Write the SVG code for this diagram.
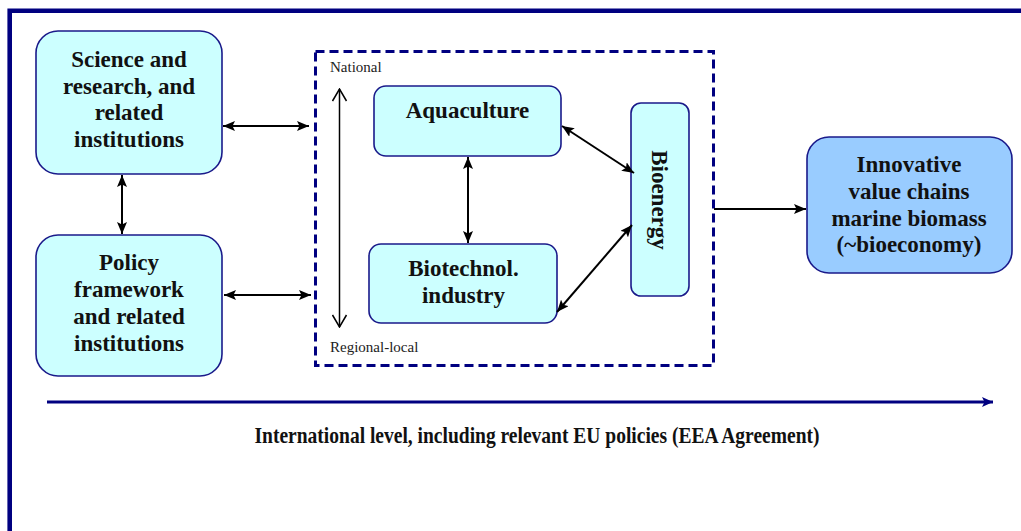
<svg xmlns="http://www.w3.org/2000/svg" width="1021" height="531" viewBox="0 0 1021 531" font-family="Liberation Serif, DejaVu Serif, serif">
<style>
.box{fill:#CCFFFF;stroke:#1a1a8a;stroke-width:1.6}
.box2{fill:#99CCFF;stroke:#1a1a8a;stroke-width:1.6}
.t{font-weight:bold;font-size:23px;fill:#111;text-anchor:middle}
.s{font-size:15px;fill:#222}
.c{stroke:#000;stroke-width:2;fill:none}
</style>
<defs>
<marker id="ah" markerUnits="userSpaceOnUse" viewBox="0 0 12 10" markerWidth="12" markerHeight="10" refX="12" refY="5" orient="auto-start-reverse">
<path d="M0,0 L12,5 L0,10 L2.5,5 z" fill="#000"/>
</marker>
<marker id="open" markerUnits="userSpaceOnUse" viewBox="0 0 14 16" markerWidth="14" markerHeight="16" refX="13" refY="8" orient="auto-start-reverse">
<path d="M1,1 L13,8 L1,15" fill="none" stroke="#000" stroke-width="1.5"/>
</marker>
<marker id="nav" markerUnits="userSpaceOnUse" viewBox="0 0 11 10" markerWidth="11" markerHeight="10" refX="11" refY="5" orient="auto">
<path d="M0,0 L11,5 L0,10 L2.5,5 z" fill="#000080"/>
</marker>
</defs>
<rect width="1021" height="531" fill="#fff"/>
<path d="M9.7,531 V10.8 H1021" fill="none" stroke="#000080" stroke-width="4.6"/>
<g id="science">
<rect class="box" x="36" y="31" width="186" height="143" rx="22"/>
<text class="t" x="129" y="67">Science and</text>
<text class="t" x="129" y="93.5">research, and</text>
<text class="t" x="129" y="120">related</text>
<text class="t" x="129" y="147">institutions</text>
</g>
<g id="policy">
<rect class="box" x="36" y="235" width="186" height="141" rx="22"/>
<text class="t" x="129" y="270">Policy</text>
<text class="t" x="129" y="297">framework</text>
<text class="t" x="129" y="324">and related</text>
<text class="t" x="129" y="351">institutions</text>
</g>
<g id="levels">
<rect x="315.5" y="51.5" width="398" height="314" fill="none" stroke="#000080" stroke-width="3" stroke-dasharray="9,5"/>
<text class="s" x="330" y="72">National</text>
<text class="s" x="330" y="352">Regional-local</text>
</g>
<g id="aquaculture">
<rect class="box" x="374" y="86" width="187" height="70" rx="12"/>
<text class="t" x="467.5" y="118">Aquaculture</text>
</g>
<g id="biotech">
<rect class="box" x="369" y="244" width="188" height="79" rx="12"/>
<text class="t" x="463.5" y="276">Biotechnol.</text>
<text class="t" x="463.5" y="303">industry</text>
</g>
<g id="bioenergy">
<rect class="box" x="631" y="103" width="58" height="193" rx="10"/>
<text class="t" transform="translate(652,200) rotate(90)" x="0" y="0">Bioenergy</text>
</g>
<g id="innovative">
<rect class="box2" x="807" y="137" width="205" height="136" rx="22"/>
<text class="t" x="909" y="172">Innovative</text>
<text class="t" x="909" y="198.5">value chains</text>
<text class="t" x="909" y="225.5">marine biomass</text>
<text class="t" x="909" y="252">(~bioeconomy)</text>
</g>
<g id="international">
<text class="t" x="537" y="443" font-size="18" textLength="565" lengthAdjust="spacingAndGlyphs">International level, including relevant EU policies (EEA Agreement)</text>
</g>
<g id="connectors">
<line class="c" x1="223" y1="126" x2="309" y2="126" marker-start="url(#ah)" marker-end="url(#ah)"/>
<line class="c" x1="224" y1="295" x2="311" y2="295" marker-start="url(#ah)" marker-end="url(#ah)"/>
<line class="c" x1="122" y1="175" x2="122" y2="234" marker-start="url(#ah)" marker-end="url(#ah)"/>
<line x1="339.5" y1="89" x2="339.5" y2="327" stroke="#000" stroke-width="1.5" marker-start="url(#open)" marker-end="url(#open)"/>
<line class="c" x1="468" y1="157" x2="468" y2="243" stroke-width="3" marker-start="url(#ah)" marker-end="url(#ah)"/>
<line class="c" x1="562" y1="126" x2="634" y2="173" marker-start="url(#ah)" marker-end="url(#ah)"/>
<line class="c" x1="557" y1="312" x2="632" y2="225" marker-start="url(#ah)" marker-end="url(#ah)"/>
<line class="c" x1="714" y1="209" x2="806" y2="209" marker-end="url(#ah)"/>
<line x1="47" y1="402" x2="993" y2="402" stroke="#000080" stroke-width="3" marker-end="url(#nav)"/>
</g>
</svg>
